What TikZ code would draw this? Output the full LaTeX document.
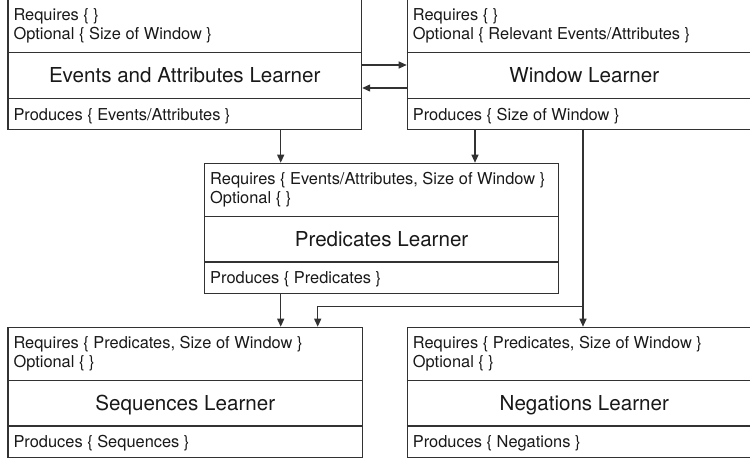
\documentclass[tikz,border=0pt]{standalone}
\usepackage{fontspec}
\setmainfont{TeX Gyre Heros}
\usetikzlibrary{arrows.meta,calc}
\definecolor{linec}{RGB}{50,50,50}
\definecolor{textc}{RGB}{25,25,25}
\newcommand\smallf{\fontsize{16.4}{19}\selectfont}
\newcommand\titlef{\fontsize{20.6}{24}\selectfont}
% #1 name, #2 x, #3 top, #4 width, #5 requires, #6 optional, #7 title, #8 produces
\newcommand\learnerbox[8]{%
  \node[lbox, minimum width=#4pt] (#1) at (#2,#3) {};
  \draw[lline] (#1.north west) ++(0,53.5) -- ++(#4,0);
  \draw[lline] (#1.north west) ++(0,99.3) -- ++(#4,0);
  \node[smalltxt] (#1-req) at ($(#1.north west)+(6,21.8)$) {Requires \{ #5\}};
  \node[smalltxt] (#1-opt) at ($(#1.north west)+(6,40.8)$) {Optional \{ #6\}};
  \node[titletxt] (#1-ttl) at ($(#1.north)+(0,83.5)$) {#7};
  \node[smalltxt] (#1-prd) at ($(#1.north west)+(6,121)$) {Produces \{ #8 \}};
}
\tikzset{
  lbox/.style={draw=linec, line width=1.2pt, rectangle, anchor=north west,
    inner sep=0pt, minimum height=130pt},
  lline/.style={draw=linec, line width=1.2pt},
  smalltxt/.style={font=\smallf, text=textc, anchor=base west, inner sep=0pt},
  titletxt/.style={font=\titlef, text=textc, anchor=base, inner sep=0pt},
  arr/.style={draw=linec, line width=1.2pt, -{Triangle[length=8pt,width=7pt]}},
}
\begin{document}
\begin{tikzpicture}[x=1pt,y=-1pt]
\fill[white] (0,0) rectangle (750,461);
\useasboundingbox (0,0) rectangle (750,461);
\learnerbox{b1}{7.3}{-1}{353.7}{}{Size of Window }{Events and Attributes Learner}{Events/Attributes}
\learnerbox{b2}{406.7}{-1}{354}{}{Relevant Events/Attributes }{Window Learner}{Size of Window}
\learnerbox{b3}{204}{162.7}{354}{Events/Attributes, Size of Window }{}{Predicates Learner}{Predicates}
\learnerbox{b4}{7.3}{326.7}{354.7}{Predicates, Size of Window }{}{Sequences Learner}{Sequences}
\learnerbox{b5}{406.7}{326.7}{354}{Predicates, Size of Window }{}{Negations Learner}{Negations}
\draw[arr] (b1.east |- 0,65) -- (b2.west |- 0,65);
\draw[arr] (b2.west |- 0,88) -- (b1.east |- 0,88);
\draw[arr] (280.7,0 |- b1.south) -- (280.7,0 |- b3.north);
\draw[arr] (475,0 |- b2.south) -- (475,0 |- b3.north);
\draw[arr] (583,0 |- b2.south) -- (583,0 |- b5.north);
\coordinate (split) at (583,306.7);
\draw[arr] (split) -- (317.7,306.7) -- (317.7,0 |- b4.north);
\draw[arr] (280.7,0 |- b3.south) -- (280.7,0 |- b4.north);
\end{tikzpicture}
\end{document}
